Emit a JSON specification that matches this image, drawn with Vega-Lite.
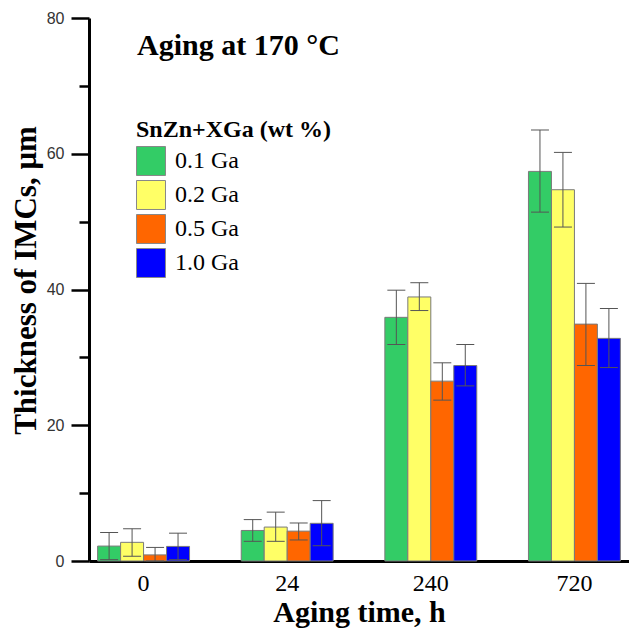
{
  "$schema": "https://vega.github.io/schema/vega-lite/v6.json",
  "width": 540,
  "height": 543,
  "autosize": {"type": "none"},
  "padding": {"left": 89, "top": 18, "right": 0, "bottom": 69},
  "background": "white",
  "title": {
    "text": "Aging at 170 °C",
    "anchor": "start",
    "frame": "group",
    "orient": "top",
    "dx": 48,
    "dy": 55,
    "font": "Liberation Serif",
    "fontSize": 30,
    "fontWeight": "bold",
    "color": "black"
  },
  "config": {"view": {"stroke": null}},
  "data": {
    "values": [
      {"time": "0", "alloy": "0.1 Ga", "mean": 2.2, "lo": 0.2, "hi": 4.2},
      {"time": "0", "alloy": "0.2 Ga", "mean": 2.75, "lo": 0.7, "hi": 4.75},
      {"time": "0", "alloy": "0.5 Ga", "mean": 0.9, "lo": 0.0, "hi": 2.0},
      {"time": "0", "alloy": "1.0 Ga", "mean": 2.15, "lo": 0.2, "hi": 4.1},
      {"time": "24", "alloy": "0.1 Ga", "mean": 4.5, "lo": 2.9, "hi": 6.1},
      {"time": "24", "alloy": "0.2 Ga", "mean": 5.0, "lo": 2.9, "hi": 7.2},
      {"time": "24", "alloy": "0.5 Ga", "mean": 4.4, "lo": 3.1, "hi": 5.6},
      {"time": "24", "alloy": "1.0 Ga", "mean": 5.55, "lo": 2.25, "hi": 8.9},
      {"time": "240", "alloy": "0.1 Ga", "mean": 35.9, "lo": 31.9, "hi": 39.9},
      {"time": "240", "alloy": "0.2 Ga", "mean": 38.9, "lo": 36.9, "hi": 41.0},
      {"time": "240", "alloy": "0.5 Ga", "mean": 26.5, "lo": 23.7, "hi": 29.2},
      {"time": "240", "alloy": "1.0 Ga", "mean": 28.8, "lo": 25.8, "hi": 31.9},
      {"time": "720", "alloy": "0.1 Ga", "mean": 57.4, "lo": 51.4, "hi": 63.5},
      {"time": "720", "alloy": "0.2 Ga", "mean": 54.7, "lo": 49.2, "hi": 60.2},
      {"time": "720", "alloy": "0.5 Ga", "mean": 34.9, "lo": 28.8, "hi": 40.9},
      {"time": "720", "alloy": "1.0 Ga", "mean": 32.8, "lo": 28.5, "hi": 37.2}
    ]
  },
  "encoding": {
    "x": {
      "field": "time",
      "type": "nominal",
      "sort": ["0", "24", "240", "720"],
      "scale": {"paddingInner": 0.36, "paddingOuter": 0.06},
      "axis": {
        "title": "Aging time, h",
        "labelAngle": 0,
        "labelFont": "Liberation Serif",
        "labelFontSize": 24,
        "labelColor": "black",
        "labelPadding": 10,
        "ticks": false,
        "domainColor": "black",
        "domainWidth": 3,
        "titleFont": "Liberation Serif",
        "titleFontSize": 30,
        "titleFontWeight": "bold",
        "titleColor": "black",
        "titlePadding": 2
      }
    },
    "xOffset": {
      "field": "alloy",
      "type": "nominal",
      "sort": ["0.1 Ga", "0.2 Ga", "0.5 Ga", "1.0 Ga"],
      "scale": {"paddingInner": 0, "paddingOuter": 0}
    }
  },
  "layer": [
    {
      "mark": {"type": "bar", "stroke": "#7a7a7a", "strokeWidth": 1},
      "encoding": {
        "y": {
          "field": "mean",
          "type": "quantitative",
          "scale": {"domain": [0, 80], "nice": false},
          "axis": {
            "title": "Thickness of IMCs, μm",
            "values": [0, 10, 20, 30, 40, 50, 60, 70, 80],
            "labelExpr": "datum.value % 20 === 0 ? datum.label : ''",
            "tickSize": {"condition": {"test": "datum.value % 20 === 0", "value": 18}, "value": 10},
            "tickColor": "black",
            "tickWidth": 2.5,
            "grid": false,
            "domainColor": "black",
            "domainWidth": 3,
            "labelFont": "Liberation Sans",
            "labelFontSize": 16,
            "labelColor": "#333333",
            "labelPadding": 7,
            "titleFont": "Liberation Serif",
            "titleFontSize": 31,
            "titleFontWeight": "bold",
            "titleColor": "black",
            "titlePadding": 4,
            "titleY": 262
          }
        },
        "color": {
          "field": "alloy",
          "type": "nominal",
          "sort": ["0.1 Ga", "0.2 Ga", "0.5 Ga", "1.0 Ga"],
          "scale": {
            "domain": ["0.1 Ga", "0.2 Ga", "0.5 Ga", "1.0 Ga"],
            "range": ["#33CC66", "#FFFF66", "#FF6600", "#0000FF"]
          },
          "legend": {
            "title": "SnZn+XGa (wt %)",
            "orient": "none",
            "legendX": 47,
            "legendY": 100,
            "titleFont": "Liberation Serif",
            "titleFontSize": 24,
            "titleFontWeight": "bold",
            "titleColor": "black",
            "titlePadding": 4,
            "titleLimit": 400,
            "labelLimit": 300,
            "labelFont": "Liberation Serif",
            "labelFontSize": 24,
            "labelColor": "black",
            "labelOffset": 9,
            "symbolType": "square",
            "symbolSize": 840,
            "symbolStrokeColor": "#888888",
            "symbolStrokeWidth": 1,
            "symbolOpacity": 1,
            "rowPadding": 0
          }
        }
      }
    },
    {
      "mark": {"type": "rule", "color": "#555555", "strokeWidth": 1},
      "encoding": {
        "y": {"field": "lo", "type": "quantitative"},
        "y2": {"field": "hi"}
      }
    },
    {
      "mark": {"type": "tick", "color": "#555555", "thickness": 1, "size": 18, "opacity": 1},
      "encoding": {"y": {"field": "hi", "type": "quantitative"}}
    },
    {
      "mark": {"type": "tick", "color": "#555555", "thickness": 1, "size": 18, "opacity": 1},
      "encoding": {"y": {"field": "lo", "type": "quantitative"}}
    }
  ]
}
